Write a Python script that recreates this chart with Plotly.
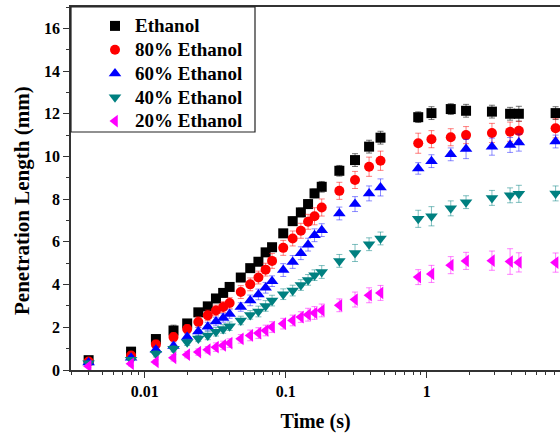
import plotly.graph_objects as go
import numpy as np

# Time (s)
time_s = [0.004, 0.008, 0.012, 0.016, 0.020, 0.024, 0.028, 0.032, 0.036, 0.040,
          0.048, 0.056, 0.064, 0.072, 0.080, 0.096, 0.112, 0.128, 0.144, 0.160,
          0.180, 0.240, 0.310, 0.390, 0.470, 0.870, 1.08, 1.48, 1.90, 2.90,
          3.90, 4.50, 8.20]

series_names = ["Ethanol", "80% Ethanol", "60% Ethanol", "40% Ethanol", "20% Ethanol"]

ethanol_100 = [0.46, 0.86, 1.45, 1.85, 2.18, 2.70, 2.98, 3.35, 3.61, 3.89,
               4.33, 4.77, 5.07, 5.51, 5.75, 6.40, 6.97, 7.38, 7.77, 8.27,
               8.58, 9.33, 9.83, 10.46, 10.88, 11.84, 12.03, 12.22, 12.14, 12.10,
               12.00, 12.00, 12.03]
ethanol_80 = [0.40, 0.68, 1.20, 1.54, 1.92, 2.25, 2.56, 2.79, 2.95, 3.14,
              3.65, 4.01, 4.33, 4.70, 5.11, 5.72, 6.16, 6.52, 6.94, 7.20,
              7.61, 8.39, 8.90, 9.52, 9.80, 10.62, 10.81, 10.90, 11.00, 11.10,
              11.16, 11.20, 11.32]
ethanol_60 = [0.35, 0.57, 0.95, 1.12, 1.54, 1.80, 2.03, 2.27, 2.44, 2.62,
              2.95, 3.26, 3.54, 3.85, 4.16, 4.68, 5.06, 5.47, 5.87, 6.31,
              6.55, 7.33, 7.77, 8.27, 8.55, 9.44, 9.78, 10.10, 10.35, 10.46,
              10.54, 10.65, 10.70]
ethanol_40 = [0.32, 0.48, 0.76, 1.00, 1.30, 1.48, 1.62, 1.79, 1.92, 2.05,
              2.32, 2.58, 2.74, 3.00, 3.25, 3.55, 3.72, 3.98, 4.22, 4.44,
              4.59, 5.11, 5.48, 5.89, 6.16, 7.08, 7.20, 7.57, 7.86, 8.06,
              8.18, 8.25, 8.27]
ethanol_20 = [0.18, 0.29, 0.38, 0.57, 0.72, 0.84, 0.95, 1.07, 1.15, 1.26,
              1.46, 1.62, 1.73, 1.85, 2.01, 2.17, 2.32, 2.48, 2.59, 2.67,
              2.79, 3.03, 3.30, 3.50, 3.61, 4.35, 4.50, 4.91, 5.11, 5.12,
              5.08, 5.04, 5.03]

err_100 = [0.10, 0.10, 0.15, 0.25, 0.15, 0.15, 0.15, 0.15, 0.15, 0.15,
           0.15, 0.15, 0.15, 0.15, 0.15, 0.15, 0.20, 0.20, 0.20, 0.20,
           0.25, 0.25, 0.30, 0.30, 0.30, 0.25, 0.30, 0.25, 0.30, 0.30,
           0.30, 0.35, 0.30]
err_80 = [0.10, 0.15, 0.20, 0.20, 0.20, 0.25, 0.25, 0.25, 0.25, 0.25,
          0.30, 0.30, 0.30, 0.30, 0.35, 0.35, 0.35, 0.35, 0.35, 0.40,
          0.40, 0.40, 0.40, 0.45, 0.45, 0.47, 0.40, 0.40, 0.40, 0.45,
          0.45, 0.45, 0.45]
err_60 = [0.10, 0.10, 0.15, 0.15, 0.15, 0.20, 0.20, 0.20, 0.20, 0.20,
          0.20, 0.25, 0.25, 0.25, 0.25, 0.30, 0.30, 0.30, 0.30, 0.30,
          0.30, 0.30, 0.35, 0.35, 0.40, 0.27, 0.30, 0.30, 0.45, 0.40,
          0.35, 0.40, 0.30]
err_40 = [0.10, 0.10, 0.15, 0.15, 0.15, 0.15, 0.20, 0.20, 0.20, 0.20,
          0.20, 0.20, 0.25, 0.25, 0.25, 0.25, 0.25, 0.25, 0.25, 0.25,
          0.30, 0.30, 0.40, 0.30, 0.30, 0.40, 0.45, 0.35, 0.30, 0.35,
          0.35, 0.40, 0.35]
err_20 = [0.05, 0.10, 0.10, 0.15, 0.15, 0.15, 0.15, 0.20, 0.20, 0.20,
          0.20, 0.25, 0.25, 0.25, 0.25, 0.25, 0.25, 0.25, 0.30, 0.30,
          0.30, 0.30, 0.35, 0.35, 0.35, 0.35, 0.40, 0.40, 0.40, 0.45,
          0.60, 0.45, 0.45]

values = [ethanol_100, ethanol_80, ethanol_60, ethanol_40, ethanol_20]
errors = [err_100, err_80, err_60, err_40, err_20]
colors = ["#000000", "#ff0000", "#0000ff", "#008080", "#ff00ff"]
err_colors = ["rgba(0,0,0,0.55)", "rgba(255,0,0,0.5)", "rgba(0,0,255,0.45)",
              "rgba(0,128,128,0.5)", "rgba(255,0,255,0.5)"]
symbols = ["square", "circle", "triangle-up", "triangle-down", "triangle-left"]
sizes = [10, 10, 11, 11, 11]

FONT = "Liberation Serif"

fig = go.Figure()
for i, name in enumerate(series_names):
    fig.add_trace(go.Scatter(
        x=time_s, y=values[i], mode="markers",
        name=f'<span style="font-size:19px">{name}</span>',
        legendgroup=f"g{i}",
        marker=dict(symbol=symbols[i], color=colors[i], size=sizes[i], line=dict(width=0)),
        error_y=dict(type="data", array=errors[i], visible=True,
                     color=err_colors[i], thickness=1, width=3),
    ))

# minor tick positions on the log axis
minor_x = [d * 10.0 ** k for k in range(-3, 1) for d in range(2, 10)]

W, H = 560, 440
L, R, T, B = 71, 0, 7, 70
pw = W - L - R
ph = H - T - B

fig.update_layout(
    width=W, height=H,
    margin=dict(l=L, r=R, t=T, b=B),
    paper_bgcolor="white", plot_bgcolor="white",
    font=dict(family=FONT, size=16, color="black", weight="bold"),
    showlegend=True,
    legend=dict(x=(95 - L) / pw, y=1 - (9 - T) / ph, xanchor="left", yanchor="top",
                bgcolor="rgba(0,0,0,0)", borderwidth=0,
                font=dict(family=FONT, size=16, color="black", weight="bold"),
                tracegroupgap=0),
    shapes=[dict(type="rect", xref="paper", yref="paper",
                 x0=0, x1=(255 - L) / pw, y0=1 - (132 - T) / ph, y1=1,
                 line=dict(color="#222", width=1.2), fillcolor="rgba(0,0,0,0)")],
    annotations=[dict(text="Penetration Length (mm)", textangle=-90,
                      xref="paper", yref="paper", x=0, xshift=22 - L,
                      y=(370 - 201) / ph, xanchor="center", yanchor="middle",
                      showarrow=False,
                      font=dict(family=FONT, size=21, color="black", weight="bold"))],
)

fig.update_xaxes(
    type="log", range=[np.log10(0.003), 0.945],
    tickvals=[0.01, 0.1, 1, 10], ticktext=["0.01", "0.1", "1", "10"],
    ticks="outside", ticklen=6, tickwidth=1.2, tickcolor="#333",
    minor=dict(tickvals=minor_x, ticks="outside", ticklen=3, tickwidth=1, tickcolor="#333"),
    showline=True, linecolor="#333", linewidth=1.5, mirror=True,
    showgrid=False, zeroline=False,
    tickfont=dict(family=FONT, size=16, weight="bold"),
    title=dict(text="Time (s)", font=dict(family=FONT, size=20, weight="bold"), standoff=15),
)
fig.update_yaxes(
    range=[0, 17], tick0=0, dtick=2,
    ticks="outside", ticklen=6, tickwidth=1.2, tickcolor="#333",
    minor=dict(dtick=1, ticks="outside", ticklen=3, tickwidth=1, tickcolor="#333"),
    showline=True, linecolor="#333", linewidth=1.5, mirror=False,
    showgrid=False, zeroline=False,
    tickfont=dict(family=FONT, size=16, weight="bold"),
)

fig.write_html("out.html")
